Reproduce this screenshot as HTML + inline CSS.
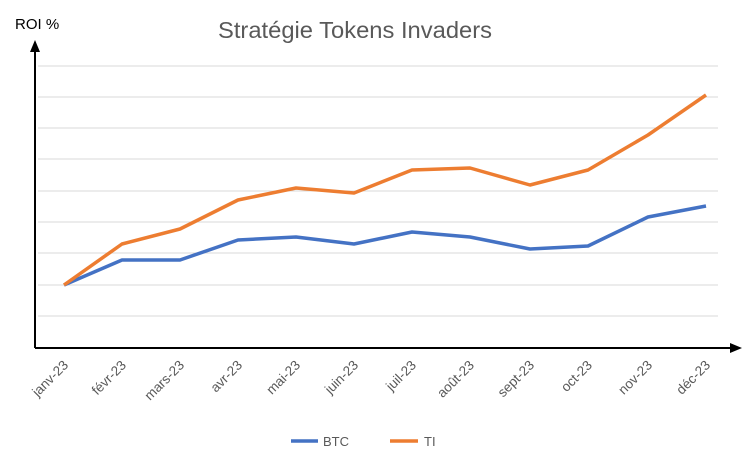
<!DOCTYPE html>
<html><head><meta charset="utf-8"><style>
html,body{margin:0;padding:0;background:#fff;}
</style></head><body>
<svg width="742" height="457" xmlns="http://www.w3.org/2000/svg" font-family="Liberation Sans, sans-serif">
<rect width="742" height="457" fill="#fff"/>
<text x="218" y="38" textLength="274" lengthAdjust="spacingAndGlyphs" font-size="23" fill="#595959">Stratégie Tokens Invaders</text>
<text x="15" y="29" font-size="15" fill="#000">ROI %</text>
<g stroke="#d9d9d9" stroke-width="1">
<line x1="38" y1="66" x2="718" y2="66"/>
<line x1="38" y1="97" x2="718" y2="97"/>
<line x1="38" y1="128" x2="718" y2="128"/>
<line x1="38" y1="159" x2="718" y2="159"/>
<line x1="38" y1="191" x2="718" y2="191"/>
<line x1="38" y1="222" x2="718" y2="222"/>
<line x1="38" y1="253" x2="718" y2="253"/>
<line x1="38" y1="285" x2="718" y2="285"/>
<line x1="38" y1="316" x2="718" y2="316"/>
</g>
<line x1="35" y1="348" x2="35" y2="50" stroke="#000" stroke-width="2"/>
<polygon points="35,40 30,52 40,52" fill="#000"/>
<line x1="35" y1="348" x2="732" y2="348" stroke="#000" stroke-width="2"/>
<polygon points="742,348 730,343 730,353" fill="#000"/>
<polyline fill="none" stroke="#4472c4" stroke-width="3.5" stroke-linejoin="round" points="64,285 122,260 180,260 238,240 296,237 354,244 412,232 470,237 530,249 588,246 648,217 706,206"/>
<polyline fill="none" stroke="#ed7d31" stroke-width="3.5" stroke-linejoin="round" points="64,285 122,244 180,229 238,200 296,188 354,193 412,170 470,168 530,185 588,170 648,135 706,95"/>
<g font-size="13.5" fill="#595959" text-anchor="end">
<text transform="translate(69,366) rotate(-45)">janv-23</text>
<text transform="translate(127,366) rotate(-45)">févr-23</text>
<text transform="translate(185,366) rotate(-45)">mars-23</text>
<text transform="translate(243,366) rotate(-45)">avr-23</text>
<text transform="translate(301,366) rotate(-45)">mai-23</text>
<text transform="translate(359,366) rotate(-45)">juin-23</text>
<text transform="translate(417,366) rotate(-45)">juil-23</text>
<text transform="translate(475,366) rotate(-45)">août-23</text>
<text transform="translate(535,366) rotate(-45)">sept-23</text>
<text transform="translate(593,366) rotate(-45)">oct-23</text>
<text transform="translate(653,366) rotate(-45)">nov-23</text>
<text transform="translate(711,366) rotate(-45)">déc-23</text>
</g>
<line x1="291" y1="441" x2="318" y2="441" stroke="#4472c4" stroke-width="3.5"/>
<text x="323" y="446" font-size="13" fill="#595959">BTC</text>
<line x1="390" y1="441" x2="418" y2="441" stroke="#ed7d31" stroke-width="3.5"/>
<text x="424" y="446" font-size="13" fill="#595959">TI</text>
</svg>
</body></html>
